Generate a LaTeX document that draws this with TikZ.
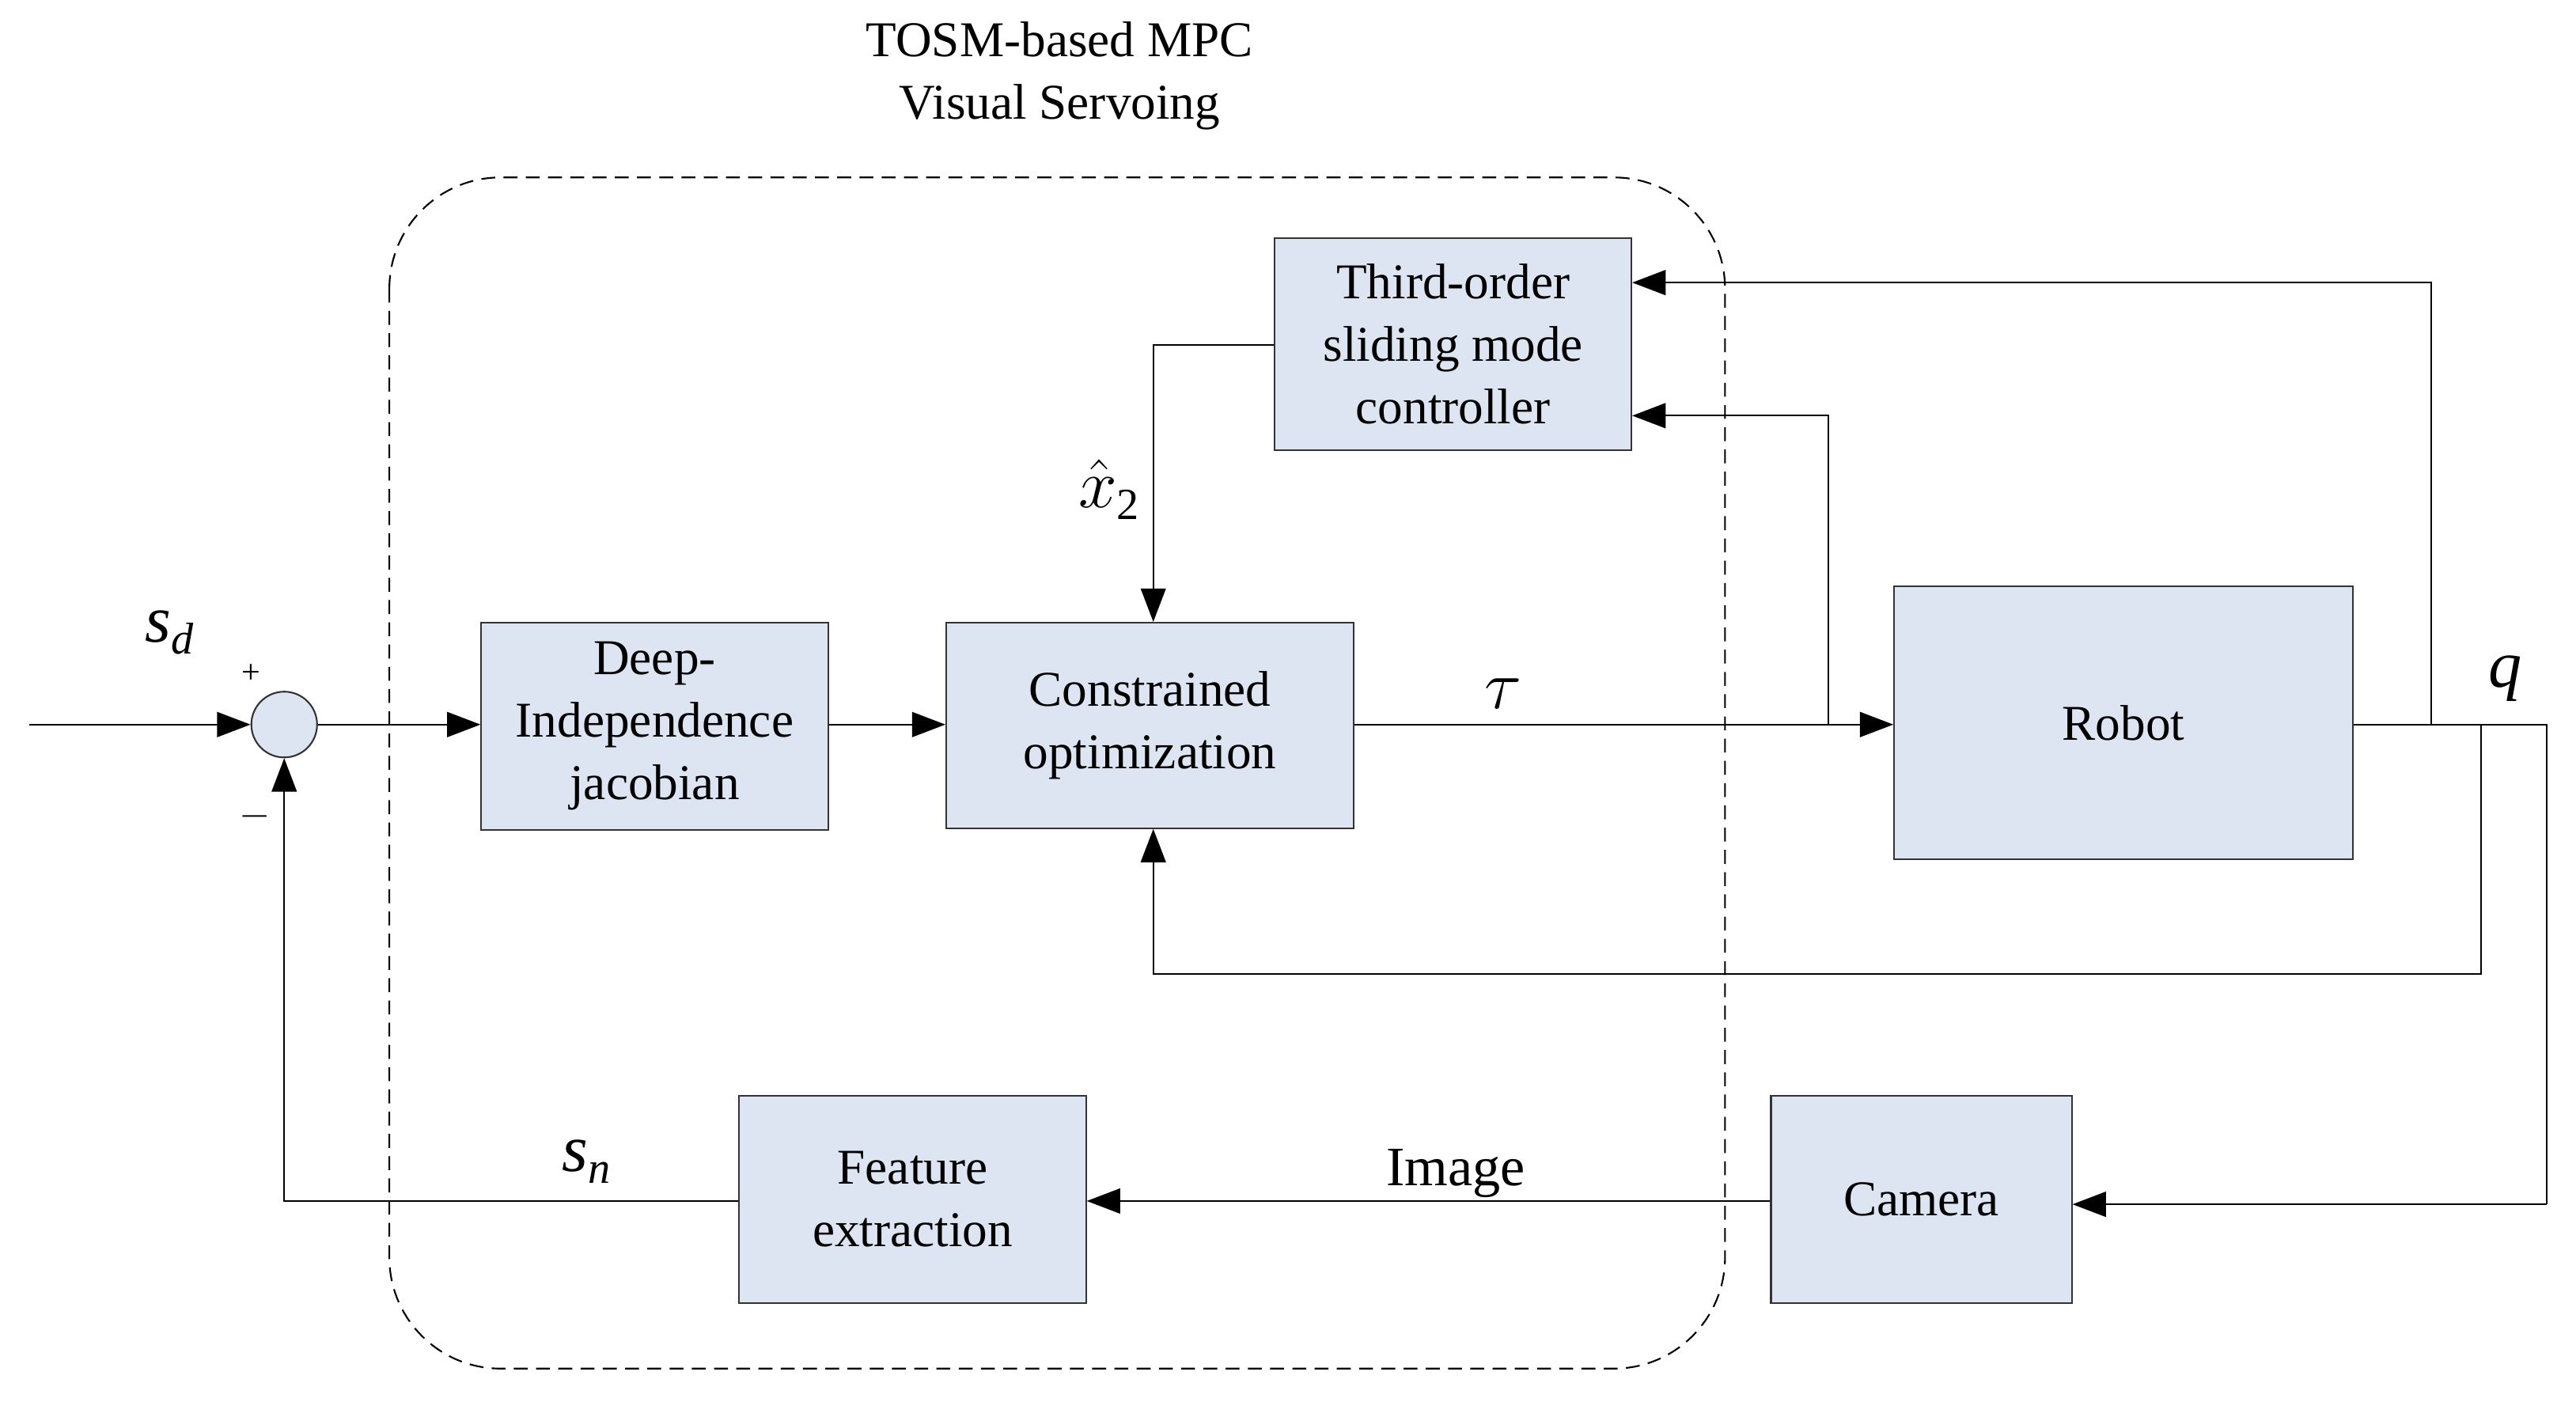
\documentclass[tikz,border=0pt]{standalone}
\usepackage{fontspec}
\setmainfont{Liberation Serif}
\usetikzlibrary{arrows.meta}
\definecolor{bf}{HTML}{DDE4F2}
\begin{document}
\begin{tikzpicture}[x=0.02077cm,y=-0.02077cm,
  blk/.style={draw=black!80,fill=bf,line width=0.6pt,inner sep=0pt,align=center,font=\fontsize{18}{22.5}\selectfont},
  ln/.style={line width=0.6pt},
  ar/.style={ln,-{Triangle[length=12pt,width=9pt]}},
  lbl/.style={font=\fontsize{24}{28}\selectfont}]
\useasboundingbox (0,0) rectangle (1568,853);
\fill[white] (0,0) rectangle (1568,853);
\node[align=center,font=\fontsize{18}{22.5}\selectfont] (title) at (645,46) {TOSM-based MPC\\Visual Servoing};
\draw[ln,dash pattern=on 5pt off 3pt,rounded corners=40pt] (237,108) rectangle (1050,833);
\node[blk,minimum width=4.507cm,minimum height=2.679cm] (tosm) at (884.5,209.5) {Third-order\\sliding mode\\controller};
\node[blk,minimum width=4.382cm,minimum height=2.617cm] (deep) at (398.5,442) {Deep-\\Independence\\jacobian};
\node[blk,minimum width=5.151cm,minimum height=2.596cm] (co) at (700,441.5) {Constrained\\optimization};
\node[blk,minimum width=5.795cm,minimum height=3.448cm] (robot) at (1292.5,440) {Robot};
\node[blk,minimum width=4.382cm,minimum height=2.617cm] (fe) at (555.5,730) {Feature\\extraction};
\node[blk,minimum width=3.801cm,minimum height=2.617cm] (cam) at (1169.5,730) {Camera};
\node[circle,draw=black!80,fill=bf,line width=0.6pt,minimum size=0.831cm,inner sep=0pt] (sum) at (173,441) {};
\coordinate (in) at (18,441);
\coordinate (r1) at (1550,441);
\coordinate (r2) at (1550,733);
\draw[ar] (in) -- (sum.west);
\draw[ar] (sum.east) -- (deep.west |- sum.east);
\draw[ar] (deep.east |- 0,441) -- (co.west |- 0,441);
\draw[ar] (co.east |- 0,441) -- (robot.west |- 0,441);
\draw[ln] (robot.east |- 0,441) -- (r1) -- (r2);
\draw[ar] (r2) -- (cam.east |- r2);
\draw[ar] (1480,441) -- (1480,172) -- (tosm.east |- 0,172);
\draw[ar] (1113,441) -- (1113,253) -- (tosm.east |- 0,253);
\draw[ar] (tosm.west |- 0,210) -- (702,210) -- (co.north -| 702,0);
\draw[ar] (1510,441) -- (1510,593) -- (702,593) -- (co.south -| 702,0);
\draw[ar] (cam.west |- 0,731) -- (fe.east |- 0,731);
\draw[ar] (fe.west |- 0,731) -- (173,731) -- (sum.south);
\node[lbl] (sd) at (103,385) {\textit{s}\raisebox{-0.4ex}{\fontsize{16}{16}\selectfont\textit{d}}};
\node[font=\fontsize{12}{14}\selectfont] (plus) at (153,410) {+};
\node[font=\fontsize{14}{14}\selectfont] (minus) at (155,497) {$-$};
\node[lbl] (tau) at (915,422) {$\tau$};
\node[lbl] (q) at (1525,413) {\textit{q}};
\node[lbl] (xh) at (675,298) {$\hat{x}$\raisebox{-0.4ex}{\fontsize{16}{16}\selectfont 2}};
\node[font=\fontsize{20}{24}\selectfont] (img) at (886,714) {Image};
\node[lbl] (sn) at (357,707) {\textit{s}\raisebox{-0.4ex}{\fontsize{16}{16}\selectfont\textit{n}}};
\end{tikzpicture}
\end{document}
